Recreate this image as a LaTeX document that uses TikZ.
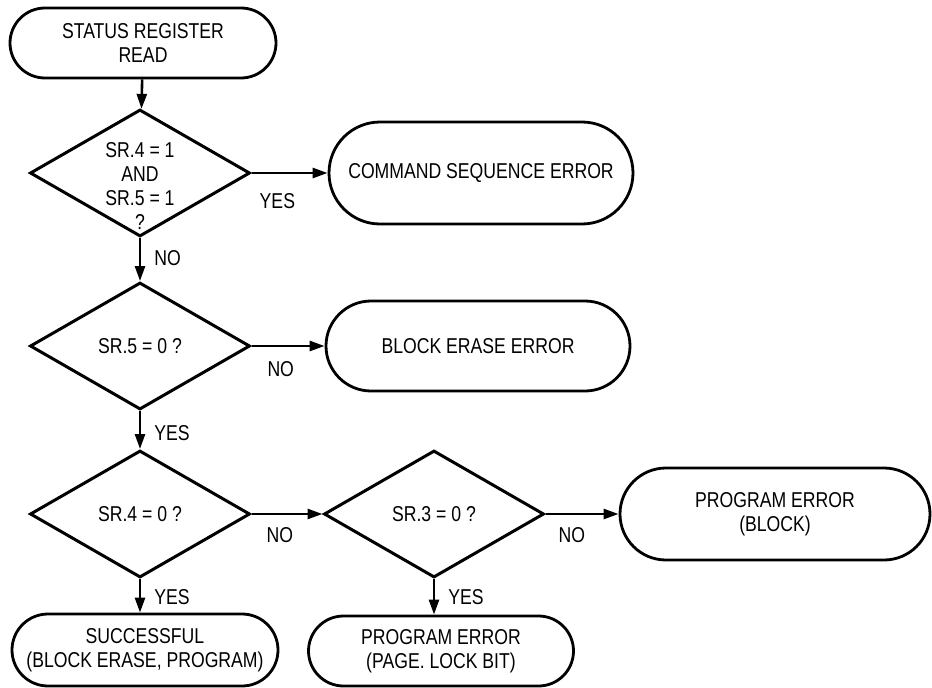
\documentclass[tikz,border=0pt]{standalone}
\usepackage{fontspec}
\setmainfont{Liberation Sans}[FakeStretch=0.82]
\usetikzlibrary{shapes.geometric,shapes.misc,arrows.meta}

\tikzset{
  term/.style={draw, line width=2.8pt, rounded rectangle, align=center, inner sep=0pt},
  decision/.style={draw, line width=3pt, diamond, aspect=1.73, inner sep=0pt,
    minimum width=220pt, minimum height=127pt},
  arr/.style={-{Triangle[length=15pt,width=10pt]}, line width=2.6pt},
  lbl/.style={inner sep=0pt}
}

\begin{document}
\begin{tikzpicture}[x=1pt, y=-1pt, font=\fontsize{21.5}{24}\selectfont]
  \useasboundingbox (0,0) rectangle (932,688);
  \node[term, minimum width=266pt, minimum height=70pt] (read) at (143,43) {STATUS REGISTER\\READ};
  \node[decision] (d1) at (140,173) {};
  \node[lbl, align=center] (d1q) at (140,186) {SR.4 = 1\\AND\\SR.5 = 1\\?};
  \node[term, minimum width=304pt, minimum height=102pt] (cmd) at (481,173) {COMMAND SEQUENCE ERROR};
  \node[decision] (d2) at (140,346) {SR.5 = 0 ?};
  \node[term, minimum width=304pt, minimum height=90pt] (blk) at (478,346) {BLOCK ERASE ERROR};
  \node[decision] (d3) at (140,514) {SR.4 = 0 ?};
  \node[decision] (d4) at (434,514) {SR.3 = 0 ?};
  \node[term, minimum width=310pt, minimum height=92pt] (prgblk) at (775,514) {PROGRAM ERROR\\(BLOCK)};
  \node[term, minimum width=266pt, minimum height=72pt] (done) at (145,650) {SUCCESSFUL\\(BLOCK ERASE, PROGRAM)};
  \node[term, minimum width=265pt, minimum height=70pt] (prgpage) at (441,651) {PROGRAM ERROR\\(PAGE. LOCK BIT)};

  \draw[arr] (read) -- (d1);
  \draw[arr] (d1.east) -- node[lbl, pos=.34, below=19pt] (yes1) {YES} (cmd.west);
  \draw[arr] (d1.south) -- node[lbl, pos=.46, right=13pt] (no1) {NO} (d2.north);
  \draw[arr] (d2.east) -- node[lbl, pos=.4, below=14pt] (no2) {NO} (blk.west);
  \draw[arr] (d2.south) -- node[lbl, pos=.57, right=13pt] (yes2) {YES} (d3.north);
  \draw[arr] (d3.east) -- node[lbl, pos=.4, below=12pt] (no3) {NO} (d4.west);
  \draw[arr] (d3.south) -- node[lbl, pos=.54, right=13pt] (yes3) {YES} (d3.south |- done.north);
  \draw[arr] (d4.east) -- node[lbl, pos=.36, below=12pt] (no4) {NO} (prgblk.west);
  \draw[arr] (d4.south) -- node[lbl, pos=.52, right=13pt] (yes4) {YES} (d4.south |- prgpage.north);
\end{tikzpicture}
\end{document}
